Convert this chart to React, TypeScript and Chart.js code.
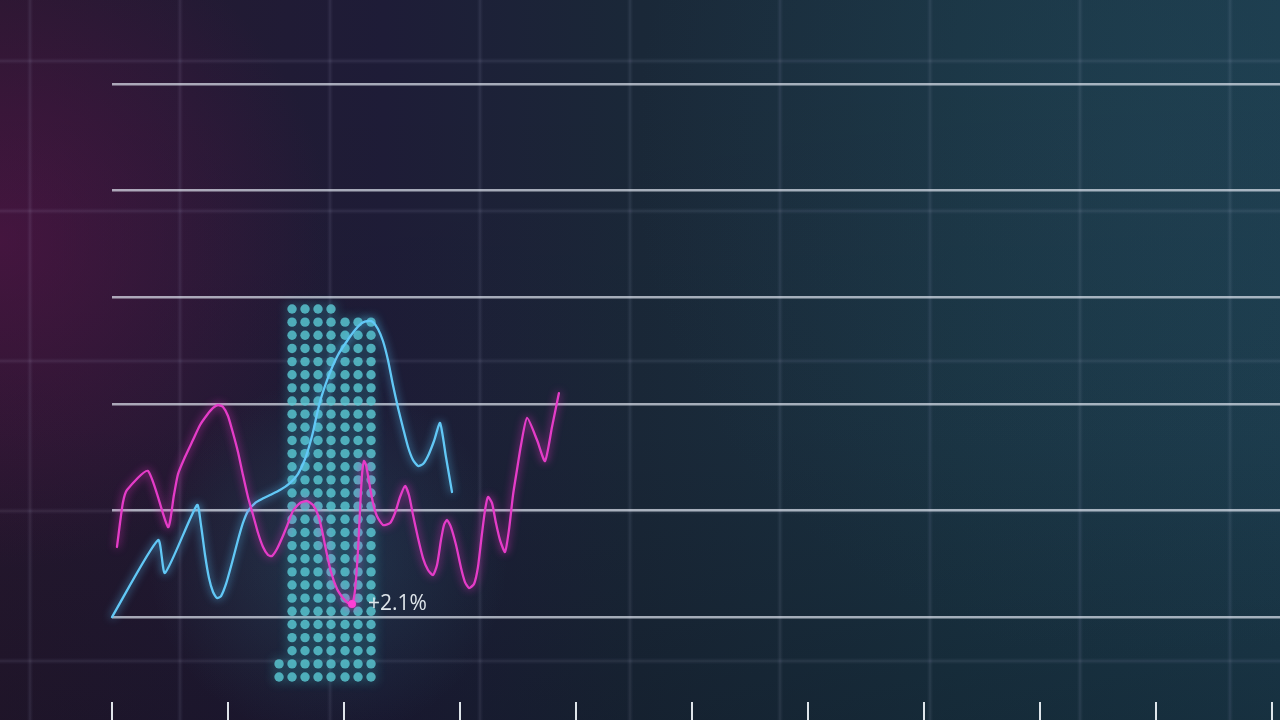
import React, { useEffect, useRef } from 'react';
import { Chart, registerables } from 'chart.js';

Chart.register(...registerables);

// ---- axis values ----
const xTicks = [0, 1, 2, 3, 4, 5, 6, 7, 8, 9, 10];
const yLevels = [0, 1, 2, 3, 4, 5];
const xMax = 10.069;
const yMin = -0.966;
const yMax = 5;

// ---- blue series ----
const blueX = [0, 0.397, 0.457, 0.733, 0.767, 0.802, 0.836, 0.871, 0.905, 0.94, 0.983, 1.034, 1.086, 1.129, 1.172, 1.233, 1.293, 1.362, 1.448, 1.534, 1.603, 1.664, 1.698, 1.733, 1.767, 1.802, 1.845, 1.888, 1.948, 2.026, 2.095, 2.155, 2.207, 2.25, 2.293, 2.336, 2.379, 2.422, 2.466, 2.509, 2.552, 2.595, 2.638, 2.681, 2.724, 2.776, 2.828, 2.879, 2.931];
const blueY = [0, 0.722, 0.413, 1.051, 0.863, 0.582, 0.366, 0.235, 0.178, 0.197, 0.31, 0.507, 0.722, 0.882, 0.994, 1.069, 1.107, 1.144, 1.191, 1.257, 1.341, 1.482, 1.595, 1.735, 1.904, 2.054, 2.195, 2.317, 2.458, 2.589, 2.692, 2.758, 2.777, 2.767, 2.702, 2.589, 2.411, 2.176, 1.961, 1.773, 1.595, 1.473, 1.417, 1.435, 1.51, 1.651, 1.82, 1.501, 1.173];

// ---- magenta series ----
const pinkX = [0.043, 0.069, 0.095, 0.129, 0.31, 0.483, 0.534, 0.569, 0.629, 0.698, 0.759, 0.819, 0.871, 0.914, 0.957, 1.0, 1.043, 1.086, 1.129, 1.172, 1.216, 1.259, 1.302, 1.345, 1.379, 1.422, 1.466, 1.509, 1.56, 1.621, 1.681, 1.733, 1.776, 1.81, 1.845, 1.888, 1.94, 1.991, 2.034, 2.069, 2.095, 2.121, 2.138, 2.155, 2.172, 2.19, 2.216, 2.25, 2.284, 2.336, 2.397, 2.44, 2.483, 2.526, 2.56, 2.595, 2.638, 2.681, 2.724, 2.767, 2.802, 2.836, 2.862, 2.888, 2.922, 2.966, 3.009, 3.043, 3.078, 3.121, 3.155, 3.19, 3.216, 3.241, 3.276, 3.31, 3.345, 3.388, 3.422, 3.457, 3.491, 3.526, 3.578, 3.664, 3.733, 3.793, 3.853];
const pinkY = [0.657, 0.882, 1.079, 1.191, 1.37, 0.844, 1.144, 1.341, 1.501, 1.66, 1.801, 1.895, 1.961, 1.989, 1.97, 1.886, 1.726, 1.548, 1.332, 1.126, 0.957, 0.788, 0.657, 0.582, 0.572, 0.638, 0.741, 0.854, 0.994, 1.069, 1.088, 1.051, 0.957, 0.816, 0.629, 0.422, 0.263, 0.178, 0.131, 0.122, 0.253, 0.629, 1.004, 1.332, 1.463, 1.426, 1.266, 1.069, 0.947, 0.863, 0.882, 0.976, 1.126, 1.229, 1.144, 0.957, 0.741, 0.553, 0.441, 0.394, 0.488, 0.722, 0.863, 0.91, 0.844, 0.675, 0.46, 0.328, 0.272, 0.31, 0.469, 0.788, 1.004, 1.126, 1.069, 0.882, 0.722, 0.61, 0.816, 1.144, 1.379, 1.614, 1.867, 1.66, 1.463, 1.782, 2.101];

// ---- highlighted point ----
const markerX = [2.069];
const markerY = [0.122];
const markerLabel = ['+2.1%'];

// ---- dot matrix column ----
const dotColX = [1.44, 1.552, 1.664, 1.776, 1.888, 2.009, 2.121, 2.233];
const dotColCount = [2, 29, 29, 29, 29, 28, 28, 28];
const dotRowBase = -0.563;
const dotRowStep = 0.1233;

const bgPlugin = {
  id: 'bgPlugin',
  beforeDraw(chart: any) {
    const ctx = chart.ctx as CanvasRenderingContext2D;
    const w = chart.width;
    const h = chart.height;
    ctx.save();
    const g = ctx.createLinearGradient(0, 0, w, 0);
    g.addColorStop(0, '#26182f');
    g.addColorStop(0.15, '#221a33');
    g.addColorStop(0.3, '#1e1c37');
    g.addColorStop(0.5, '#1a2838');
    g.addColorStop(0.75, '#1a3443');
    g.addColorStop(1, '#1c3c4d');
    ctx.fillStyle = g;
    ctx.fillRect(0, 0, w, h);
    // magenta glow at left
    const r1 = ctx.createRadialGradient(0, 240, 0, 0, 240, 330);
    r1.addColorStop(0, 'rgba(100,18,80,0.5)');
    r1.addColorStop(1, 'rgba(100,18,80,0)');
    ctx.fillStyle = r1;
    ctx.fillRect(0, 0, w, h);
    // light at upper right
    const r2 = ctx.createRadialGradient(1150, 150, 0, 1150, 150, 520);
    r2.addColorStop(0, 'rgba(45,85,105,0.18)');
    r2.addColorStop(1, 'rgba(45,85,105,0)');
    ctx.fillStyle = r2;
    ctx.fillRect(0, 0, w, h);
    // darker bottom
    const v = ctx.createLinearGradient(0, 0, 0, h);
    v.addColorStop(0, 'rgba(5,8,18,0)');
    v.addColorStop(0.6, 'rgba(5,8,18,0.03)');
    v.addColorStop(1, 'rgba(5,8,18,0.22)');
    ctx.fillStyle = v;
    ctx.fillRect(0, 0, w, h);
    // teal haze behind dot column
    const r3 = ctx.createRadialGradient(328, 560, 0, 328, 560, 180);
    r3.addColorStop(0, 'rgba(60,160,175,0.2)');
    r3.addColorStop(1, 'rgba(60,160,175,0)');
    ctx.fillStyle = r3;
    ctx.fillRect(0, 0, w, h);
    // faint background grid
    const drawGrid = (color: string, lw: number) => {
      ctx.strokeStyle = color;
      ctx.lineWidth = lw;
      for (let x = 30; x < w; x += 150) {
        ctx.beginPath();
        ctx.moveTo(x, 0);
        ctx.lineTo(x, h);
        ctx.stroke();
      }
      for (let y = 61; y < h; y += 150) {
        ctx.beginPath();
        ctx.moveTo(0, y);
        ctx.lineTo(w, y);
        ctx.stroke();
      }
    };
    drawGrid('rgba(210,220,255,0.045)', 5);
    drawGrid('rgba(220,230,255,0.04)', 2);
    ctx.restore();
  },
};

const glowPlugin = {
  id: 'glowPlugin',
  beforeDatasetDraw(chart: any, args: any) {
    const ds = chart.data.datasets[args.index] as any;
    const ctx = chart.ctx as CanvasRenderingContext2D;
    ctx.save();
    if (ds.glowColor) {
      ctx.shadowColor = ds.glowColor;
      ctx.shadowBlur = ds.glowBlur || 8;
    }
  },
  afterDatasetDraw(chart: any) {
    chart.ctx.restore();
  },
};

const tickPlugin = {
  id: 'tickPlugin',
  afterDraw(chart: any) {
    const ctx = chart.ctx as CanvasRenderingContext2D;
    const xs = chart.scales.x;
    const top = chart.scales.y.getPixelForValue(yLevels[0]) + 85;
    ctx.save();
    ctx.strokeStyle = 'rgba(240,245,250,0.92)';
    ctx.lineWidth = 2;
    for (const v of xTicks) {
      const px = Math.round(xs.getPixelForValue(v));
      ctx.beginPath();
      ctx.moveTo(px, top);
      ctx.lineTo(px, chart.height);
      ctx.stroke();
    }
    ctx.restore();
  },
};

const labelPlugin = {
  id: 'labelPlugin',
  afterDatasetsDraw(chart: any) {
    const idx = chart.data.datasets.findIndex((d: any) => d.label === 'marker');
    const meta = chart.getDatasetMeta(idx);
    const ctx = chart.ctx as CanvasRenderingContext2D;
    ctx.save();
    ctx.font = '21px "Open Sans", "Noto Sans", sans-serif';
    ctx.fillStyle = 'rgba(232,238,242,0.95)';
    ctx.textBaseline = 'middle';
    ctx.textAlign = 'left';
    meta.data.forEach((pt: any, i: number) => {
      ctx.fillText(markerLabel[i], pt.x + 16, pt.y);
    });
    ctx.restore();
  },
};

export default function App() {
  const ref = useRef<HTMLCanvasElement | null>(null);

  useEffect(() => {
    if (!ref.current) return;
    const dots: { x: number; y: number }[] = [];
    dotColX.forEach((cx, c) => {
      for (let r = 0; r < dotColCount[c]; r++) {
        dots.push({ x: cx, y: dotRowBase + r * dotRowStep });
      }
    });
    const blue = blueX.map((x, i) => ({ x, y: blueY[i] }));
    const pink = pinkX.map((x, i) => ({ x, y: pinkY[i] }));
    const marker = markerX.map((x, i) => ({ x, y: markerY[i] }));

    const chart = new Chart(ref.current, {
      type: 'scatter',
      data: {
        datasets: [
          {
            label: 'marker',
            data: marker,
            pointRadius: 4,
            pointBackgroundColor: '#ff3fd6',
            pointBorderWidth: 0,
            showLine: false,
            order: 0,
            clip: false,
            glowColor: 'rgba(255,60,210,0.9)',
            glowBlur: 8,
          } as any,
          {
            label: 'magenta',
            data: pink,
            borderColor: '#e53cc8',
            borderWidth: 2.3,
            tension: 0.2,
            pointRadius: 0,
            showLine: true,
            borderJoinStyle: 'round',
            borderCapStyle: 'round',
            order: 1,
            clip: false,
            glowColor: 'rgba(235,50,200,0.9)',
            glowBlur: 9,
          } as any,
          {
            label: 'blue',
            data: blue,
            borderColor: '#62c8f6',
            borderWidth: 2.3,
            tension: 0.2,
            pointRadius: 0,
            showLine: true,
            borderJoinStyle: 'round',
            borderCapStyle: 'round',
            order: 2,
            clip: false,
            glowColor: 'rgba(90,200,255,0.9)',
            glowBlur: 9,
          } as any,
          {
            label: 'dots',
            data: dots,
            pointRadius: 4.7,
            pointBackgroundColor: 'rgba(92,200,210,0.82)',
            pointBorderWidth: 0,
            showLine: false,
            order: 3,
            clip: false,
            glowColor: 'rgba(70,205,220,0.6)',
            glowBlur: 12,
          } as any,
        ],
      },
      options: {
        animation: false,
        responsive: false,
        events: [],
        layout: { autoPadding: false, padding: { left: 112, right: 0, top: 84, bottom: 0 } },
        plugins: {
          legend: { display: false },
          tooltip: { enabled: false },
        },
        scales: {
          x: { type: 'linear', min: 0, max: xMax, display: false },
          y: {
            type: 'linear',
            min: yMin,
            max: yMax,
            display: true,
            afterBuildTicks: (s: any) => {
              s.ticks = yLevels.map((v) => ({ value: v }));
            },
            ticks: { display: false },
            grid: {
              color: 'rgba(232,238,248,0.68)',
              lineWidth: 2.5,
              drawTicks: false,
            },
            border: { display: false },
          },
        },
      },
      plugins: [bgPlugin, glowPlugin, tickPlugin, labelPlugin],
    });
    return () => chart.destroy();
  }, []);

  return (
    <div style={{ position: 'fixed', left: 0, top: 0, width: 1280, height: 720, overflow: 'hidden' }}>
      <canvas ref={ref} width={1280} height={720} style={{ display: 'block', width: 1280, height: 720 }} />
    </div>
  );
}
